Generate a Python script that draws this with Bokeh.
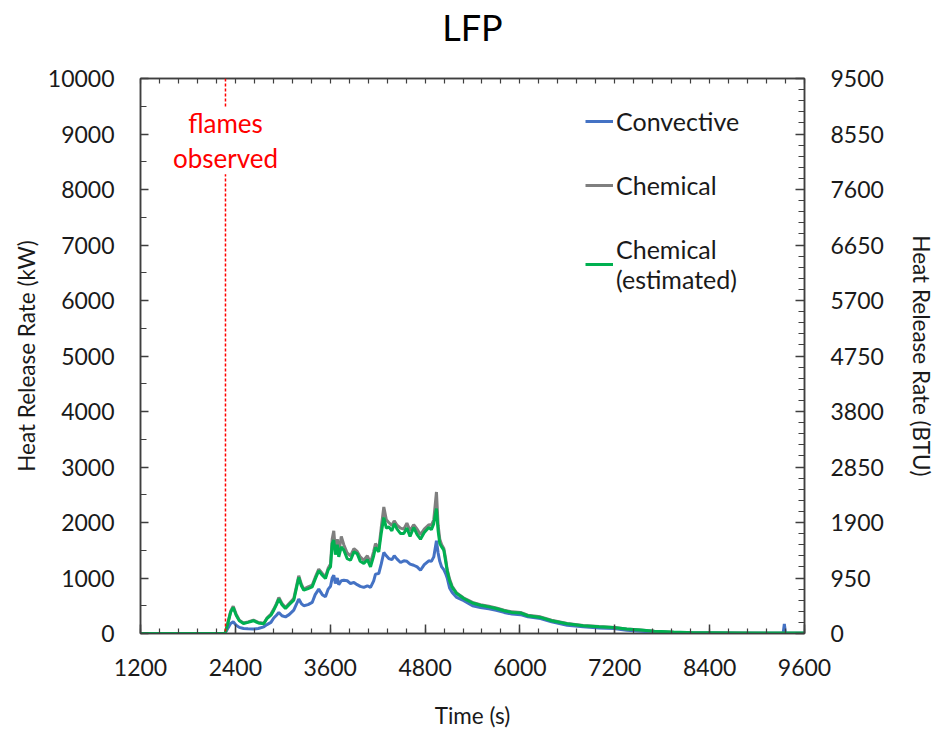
import math
from bokeh.plotting import figure
from bokeh.models import (Range1d, LinearAxis, SingleIntervalTicker, FixedTicker, Span,
                          Label, Legend, LegendItem, ColumnDataSource)
from bokeh.embed import file_html
from bokeh.resources import INLINE

# ---------------- data ----------------
time_s = [1200, 2000, 2270, 2300, 2340, 2373, 2410, 2450, 2503, 2560, 2629, 2690,
          2760, 2800, 2850, 2886, 2920, 2950, 2990, 3034, 3080, 3139, 3170, 3202,
          3235, 3266, 3320, 3372, 3410, 3455, 3500, 3540, 3575, 3604, 3625, 3645,
          3665, 3690, 3708, 3740, 3772, 3815, 3857, 3900, 3941, 3980, 4025, 4070,
          4110, 4150, 4173, 4214, 4245, 4278, 4310, 4341, 4380, 4410, 4446, 4490,
          4531, 4570, 4610, 4656, 4700, 4742, 4790, 4847, 4880, 4910, 4944, 4965,
          4986, 5010, 5037, 5060, 5080, 5110, 5143, 5200, 5290, 5400, 5500, 5606,
          5700, 5800, 5900, 6007, 6100, 6260, 6400, 6598, 6800, 7000, 7187, 7350,
          7525, 7700, 7946, 8200, 8448, 8800, 9200, 9330, 9345, 9360, 9600]

chemical_est = [0, 0, 5, 150, 380, 470, 330, 230, 180, 200, 230, 190,
                175, 270, 330, 420, 520, 620, 520, 450, 520, 600, 800, 1010,
                860, 780, 810, 840, 980, 1130, 1050, 990, 1150, 1200, 1620, 1680,
                1420, 1600, 1380, 1560, 1500, 1350, 1320, 1470, 1440, 1300, 1260, 1330,
                1200, 1400, 1550, 1470, 1800, 2090, 1900, 1920, 1850, 1980, 1880, 1800,
                1800, 1900, 1750, 1910, 1780, 1700, 1820, 1910, 1870, 1980, 2250, 1850,
                1620, 1560, 1500, 1300, 1130, 950, 830, 720, 630, 550, 510, 480,
                450, 410, 380, 370, 320, 290, 230, 175, 140, 120, 110, 80,
                65, 40, 25, 15, 15, 10, 8, 8, 8, 8, 8]

chemical = [0, 0, 5, 160, 400, 490, 350, 240, 190, 210, 240, 200,
            185, 280, 350, 440, 540, 650, 540, 470, 540, 630, 830, 1040,
            890, 800, 840, 870, 1010, 1160, 1080, 1020, 1180, 1250, 1700, 1850,
            1500, 1700, 1450, 1750, 1600, 1450, 1400, 1530, 1480, 1380, 1320, 1400,
            1270, 1480, 1620, 1520, 1900, 2280, 2050, 2000, 1950, 2030, 1950, 1900,
            1880, 1990, 1850, 1960, 1880, 1780, 1880, 1960, 1950, 2050, 2550, 1950,
            1700, 1600, 1530, 1350, 1150, 980, 850, 730, 640, 560, 520, 490,
            460, 420, 390, 380, 330, 300, 240, 180, 145, 125, 110, 80,
            65, 40, 20, 10, 10, 8, 5, 5, 5, 5, 5]

convective = [0, 0, 5, 80, 180, 210, 150, 110, 90, 85, 80, 90,
              120, 160, 200, 280, 330, 380, 320, 300, 340, 420, 520, 620,
              540, 500, 520, 560, 700, 800, 700, 660, 800, 850, 1000, 1050,
              900, 1000, 880, 950, 960, 950, 900, 920, 880, 850, 830, 860,
              830, 950, 1070, 1080, 1250, 1460, 1400, 1350, 1330, 1400, 1340, 1280,
              1310, 1300, 1250, 1230, 1200, 1140, 1240, 1310, 1300, 1380, 1670, 1450,
              1300, 1200, 1150, 1080, 1000, 820, 740, 650, 590, 500, 470, 445,
              420, 380, 350, 340, 300, 270, 210, 150, 120, 100, 90, 60,
              40, 25, 15, 10, 8, 5, 5, 5, 170, 5, 5]

flames_time = 2275
x_ticks_major = 1200
x_ticks_minor = 240
y_ticks_major_kw = 1000
y_ticks_major_btu = 950
btu_max = 9500
x_min, x_max = 1200, 9600

FONT = "Lato"
TXT = "#1a1a1a"
AX = "#3f3f3f"

src = ColumnDataSource(dict(t=time_s, est=chemical_est, chem=chemical, conv=convective))

p = figure(width=939, height=732,
           x_range=Range1d(x_min, x_max), y_range=Range1d(0, 10000),
           output_backend="svg", toolbar_location=None,
           min_border_left=140, min_border_right=135,
           min_border_top=78, min_border_bottom=99)

p.grid.visible = False
p.outline_line_color = AX
p.outline_line_width = 1.5
p.background_fill_color = "white"
p.border_fill_color = "white"

def style_axis(ax):
    ax.axis_line_color = AX
    ax.axis_line_width = 1.5
    ax.major_tick_line_color = AX
    ax.minor_tick_line_color = AX
    ax.major_tick_line_width = 1.5
    ax.minor_tick_line_width = 1.2
    ax.major_tick_out = 0
    ax.minor_tick_out = 0
    ax.major_label_text_font = FONT
    ax.major_label_text_font_size = "23px"
    ax.major_label_text_color = TXT
    ax.axis_label_text_font = FONT
    ax.axis_label_text_font_size = "22.5px"
    ax.axis_label_text_font_style = "normal"
    ax.axis_label_text_color = TXT

# bottom x axis
xa = p.xaxis[0]
style_axis(xa)
xa.ticker = SingleIntervalTicker(interval=x_ticks_major, num_minor_ticks=5)
xa.major_tick_in = 9
xa.minor_tick_in = 5
xa.major_label_standoff = 25
xa.axis_label = "Time (s)"
xa.axis_label_standoff = 23

# left y axis
ya = p.yaxis[0]
style_axis(ya)
ya.ticker = SingleIntervalTicker(interval=y_ticks_major_kw, num_minor_ticks=2)
ya.major_tick_in = 8
ya.minor_tick_in = 6
ya.major_label_standoff = 26
ya.axis_label = "Heat Release Rate (kW)"
ya.axis_label_standoff = 5

# right y axis (BTU)
p.extra_y_ranges = {"btu": Range1d(0, btu_max)}
ra = LinearAxis(y_range_name="btu",
                ticker=SingleIntervalTicker(interval=y_ticks_major_btu, num_minor_ticks=5),
                axis_label="Heat Release Rate (BTU)")
style_axis(ra)
ra.major_tick_in = 9
ra.minor_tick_in = 6
ra.major_label_standoff = 26
ra.axis_label_standoff = 21
p.add_layout(ra, "right")

# top axis: unlabeled ticks only, chart title "LFP" as its label
ta = LinearAxis(ticker=FixedTicker(ticks=[],
                                   minor_ticks=list(range(x_min, x_max + 1, x_ticks_minor))),
                axis_label="LFP")
style_axis(ta)
ta.minor_tick_in = 5
ta.minor_tick_line_width = 1.2
ta.major_label_standoff = 0
ta.axis_label_text_font_size = "36px"
ta.axis_label_text_color = "black"
ta.axis_label_standoff = 30
p.add_layout(ta, "above")

# series
r_conv = p.line("t", "conv", source=src, line_color="#4472C4", line_width=3)
r_chem = p.line("t", "chem", source=src, line_color="#7F7F7F", line_width=3)
r_est = p.line("t", "est", source=src, line_color="#00B050", line_width=3)

# flames observed marker
p.add_layout(Span(location=flames_time, dimension="height", line_color="#FF0000",
                  line_dash="3 2", line_width=1.5))
p.add_layout(Label(x=flames_time, y=8880, text="flames\nobserved",
                   text_align="center", text_baseline="middle",
                   text_font=FONT, text_font_size="26px", text_color="#FF0000",
                   background_fill_color="white", text_line_height=1.1))

legend = Legend(items=[LegendItem(label="Convective", renderers=[r_conv]),
                       LegendItem(label="Chemical", renderers=[r_chem]),
                       LegendItem(label="Chemical\n(estimated)", renderers=[r_est])],
                location=(445, 339))
legend.border_line_alpha = 0
legend.background_fill_alpha = 0
legend.glyph_width = 28
legend.glyph_height = 20
legend.label_standoff = 3
legend.spacing = 34
legend.padding = 0
legend.margin = 0
legend.label_text_font = FONT
legend.label_text_font_size = "25px"
legend.label_text_color = TXT
legend.label_text_line_height = 1.5
p.add_layout(legend)

open("out.html", "w").write(file_html(p, INLINE))
